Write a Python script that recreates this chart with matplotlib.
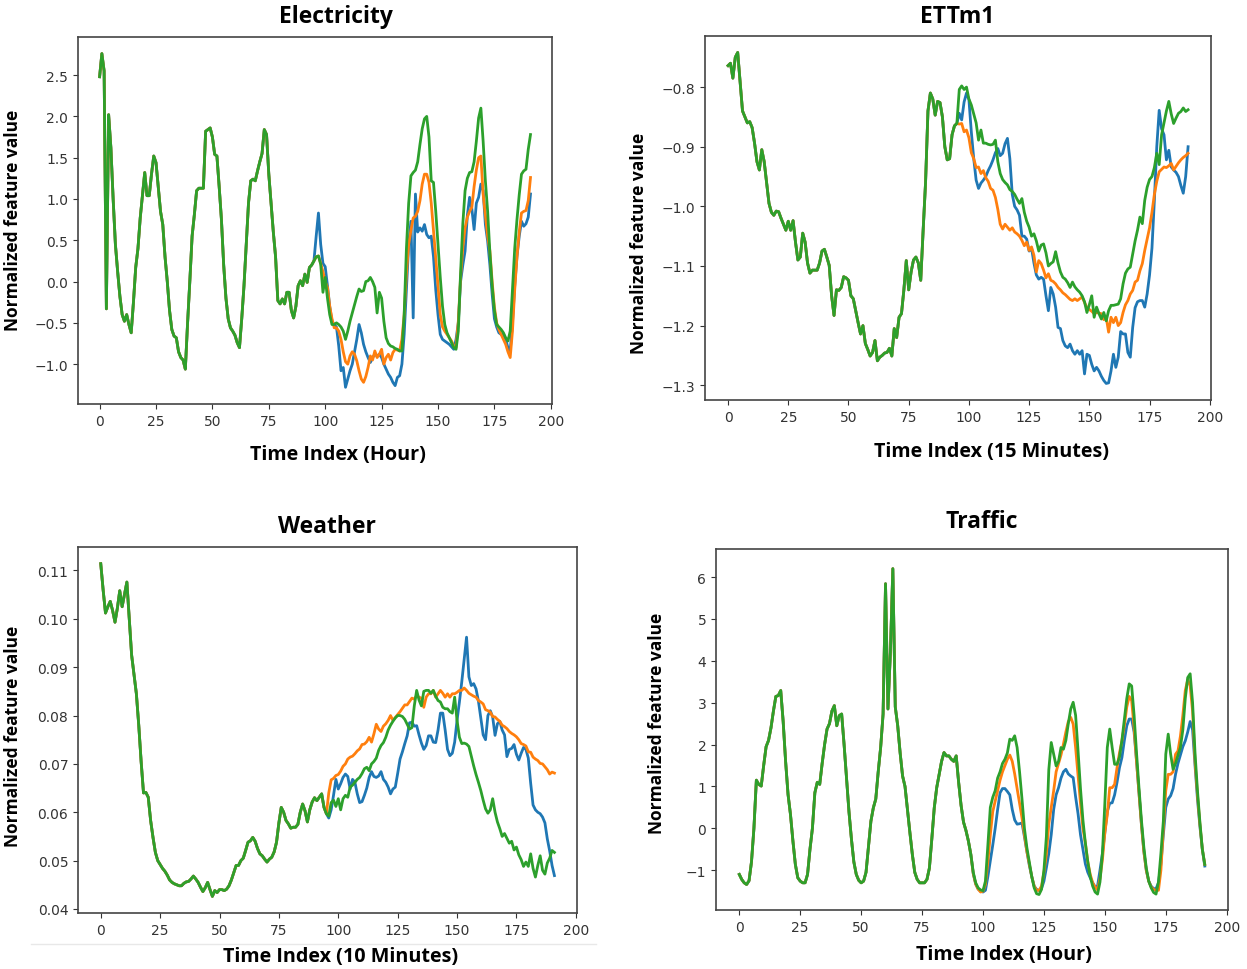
import numpy as np
import matplotlib
matplotlib.use("Agg")
import matplotlib.pyplot as plt
from matplotlib.ticker import MultipleLocator
from matplotlib.lines import Line2D


LOOKBACK = 96
HORIZON = 96

BLUE = "#1f77b4"
ORANGE = "#ff7f0e"
GREEN = "#2ca02c"

LABEL_FONT = "Open Sans"
Y_LABEL = "Normalized feature value"

# ---- Electricity ----
elec_hist = [
    2.48, 2.76, 2.55, -0.33, 2.02, 1.62, 1.00, 0.45, 0.12, -0.18,
    -0.40, -0.48, -0.40, -0.52, -0.62, -0.25, 0.17, 0.40, 0.77, 1.05,
    1.32, 1.04, 1.04, 1.30, 1.52, 1.44, 1.15, 0.85, 0.69, 0.30,
    0.00, -0.35, -0.58, -0.66, -0.68, -0.85, -0.92, -0.95, -1.06, -0.50,
    0.01, 0.55, 0.81, 1.10, 1.13, 1.13, 1.13, 1.82, 1.84, 1.86,
    1.75, 1.54, 1.52, 1.15, 0.75, 0.20, -0.20, -0.45, -0.56, -0.60,
    -0.65, -0.74, -0.80, -0.45, -0.05, 0.45, 0.95, 1.22, 1.24, 1.22,
    1.34, 1.45, 1.55, 1.84, 1.78, 1.30, 0.95, 0.60, 0.30, -0.23,
    -0.27, -0.21, -0.27, -0.13, -0.13, -0.35, -0.44, -0.30, -0.05, 0.01,
    -0.05, 0.09, -0.01, 0.17, 0.20, 0.25,
]
elec_blue = [
    0.55, 0.83, 0.45, 0.22, 0.18, -0.05, -0.30, -0.48, -0.52, -0.55,
    -0.78, -1.08, -1.04, -1.28, -1.18, -1.08, -1.00, -0.85, -0.70, -0.52,
    -0.62, -0.76, -0.85, -0.92, -0.98, -0.92, -0.88, -0.90, -0.88, -0.92,
    -1.00, -1.06, -1.12, -1.16, -1.22, -1.26, -1.16, -1.14, -1.00, -0.64,
    -0.10, 0.45, 0.73, -0.44, 1.06, 0.60, 0.65, 0.61, 0.69, 0.57,
    0.53, 0.55, 0.30, -0.10, -0.40, -0.64, -0.70, -0.72, -0.74, -0.76,
    -0.79, -0.82, -0.70, -0.50, 0.00, 0.20, 0.37, 0.80, 1.02, 0.88,
    0.63, 0.95, 1.02, 1.18, 1.10, 0.69, 0.49, 0.20, -0.15, -0.45,
    -0.55, -0.62, -0.64, -0.64, -0.70, -0.80, -0.84, -0.50, -0.05, 0.30,
    0.55, 0.73, 0.67, 0.70, 0.78, 1.06,
]
elec_orange = [
    0.30, 0.31, 0.22, 0.12, 0.00, -0.07, -0.30, -0.45, -0.56, -0.56,
    -0.60, -0.70, -0.85, -0.97, -1.00, -0.90, -0.85, -0.88, -0.96, -1.08,
    -1.18, -1.22, -1.15, -1.04, -0.90, -0.95, -0.84, -0.92, -0.88, -0.82,
    -1.00, -0.92, -0.88, -0.95, -0.86, -0.82, -0.83, -0.84, -0.70, -0.40,
    0.10, 0.45, 0.62, 0.77, 0.79, 0.85, 0.98, 1.18, 1.30, 1.30,
    1.20, 0.95, 0.62, 0.30, -0.05, -0.40, -0.55, -0.60, -0.64, -0.68,
    -0.72, -0.78, -0.80, -0.48, 0.05, 0.41, 0.65, 0.78, 0.85, 0.90,
    1.15, 1.35, 1.50, 1.52, 1.06, 0.80, 0.55, 0.37, 0.00, -0.31,
    -0.50, -0.58, -0.64, -0.70, -0.76, -0.85, -0.92, -0.60, -0.10, 0.30,
    0.60, 0.83, 0.85, 0.86, 0.98, 1.26,
]
elec_green = [
    0.30, 0.31, 0.21, -0.13, 0.05, -0.20, -0.40, -0.52, -0.52, -0.50,
    -0.52, -0.55, -0.60, -0.70, -0.60, -0.48, -0.38, -0.28, -0.18, -0.09,
    -0.12, -0.11, 0.00, 0.01, 0.05, 0.00, -0.07, -0.38, -0.13, -0.20,
    -0.48, -0.68, -0.75, -0.78, -0.79, -0.81, -0.82, -0.84, -0.84, -0.40,
    0.40, 0.95, 1.28, 1.32, 1.35, 1.45, 1.66, 1.85, 1.97, 2.00,
    1.75, 1.22, 1.20, 0.85, 0.45, 0.05, -0.30, -0.52, -0.62, -0.68,
    -0.74, -0.80, -0.82, -0.60, 0.10, 0.70, 1.10, 1.25, 1.32, 1.33,
    1.45, 1.70, 1.98, 2.10, 1.70, 1.22, 0.85, 0.35, -0.05, -0.35,
    -0.52, -0.55, -0.58, -0.62, -0.68, -0.72, -0.60, -0.10, 0.40, 0.75,
    1.05, 1.30, 1.34, 1.36, 1.60, 1.78,
]

# ---- ETTm1 ----
ettm1_hist = [
    -0.764, -0.760, -0.785, -0.750, -0.742, -0.790, -0.840, -0.850, -0.860, -0.858,
    -0.868, -0.894, -0.925, -0.939, -0.905, -0.925, -0.960, -0.995, -1.010, -1.015,
    -1.008, -1.009, -1.020, -1.030, -1.040, -1.025, -1.040, -1.024, -1.060, -1.090,
    -1.085, -1.045, -1.060, -1.095, -1.112, -1.107, -1.107, -1.107, -1.095, -1.075,
    -1.072, -1.085, -1.099, -1.150, -1.183, -1.140, -1.141, -1.136, -1.118, -1.120,
    -1.124, -1.150, -1.155, -1.175, -1.195, -1.214, -1.200, -1.230, -1.240, -1.251,
    -1.245, -1.225, -1.259, -1.253, -1.250, -1.246, -1.245, -1.238, -1.251, -1.205,
    -1.220, -1.186, -1.180, -1.140, -1.091, -1.140, -1.110, -1.090, -1.085, -1.095,
    -1.124, -1.040, -0.960, -0.840, -0.810, -0.820, -0.847, -0.824, -0.826, -0.850,
    -0.900, -0.922, -0.920, -0.880, -0.865, -0.861,
]
ettm1_blue = [
    -0.844, -0.855, -0.825, -0.810, -0.821, -0.875, -0.920, -0.956, -0.970, -0.961,
    -0.956, -0.950, -0.940, -0.932, -0.922, -0.910, -0.903, -0.915, -0.911, -0.895,
    -0.886, -0.920, -0.980, -1.000, -1.006, -1.015, -1.050, -1.050, -1.055, -1.075,
    -1.070, -1.095, -1.115, -1.122, -1.119, -1.122, -1.150, -1.175, -1.136, -1.147,
    -1.169, -1.203, -1.205, -1.225, -1.234, -1.237, -1.231, -1.242, -1.248, -1.242,
    -1.248, -1.242, -1.281, -1.248, -1.250, -1.265, -1.276, -1.270, -1.276, -1.285,
    -1.292, -1.297, -1.296, -1.276, -1.248, -1.270, -1.253, -1.210, -1.214, -1.214,
    -1.245, -1.253, -1.203, -1.170, -1.160, -1.158, -1.158, -1.169, -1.147, -1.115,
    -1.070, -0.990, -0.900, -0.839, -0.870, -0.880, -0.922, -0.906, -0.934, -0.939,
    -0.943, -0.950, -0.965, -0.978, -0.950, -0.900,
]
ettm1_orange = [
    -0.862, -0.861, -0.875, -0.872, -0.885, -0.910, -0.920, -0.935, -0.934, -0.945,
    -0.940, -0.952, -0.958, -0.970, -0.973, -0.985, -1.005, -1.030, -1.038, -1.030,
    -1.035, -1.040, -1.036, -1.043, -1.046, -1.050, -1.057, -1.066, -1.060, -1.074,
    -1.068, -1.082, -1.110, -1.091, -1.096, -1.107, -1.120, -1.113, -1.124, -1.126,
    -1.130, -1.136, -1.140, -1.145, -1.148, -1.152, -1.156, -1.158, -1.155, -1.158,
    -1.155, -1.152, -1.161, -1.170, -1.173, -1.176, -1.180, -1.178, -1.179, -1.180,
    -1.190, -1.186, -1.211, -1.186, -1.195, -1.186, -1.200, -1.195, -1.178, -1.165,
    -1.158, -1.147, -1.141, -1.127, -1.124, -1.108, -1.096, -1.074, -1.055, -1.036,
    -1.010, -0.980, -0.958, -0.942, -0.938, -0.934, -0.935, -0.932, -0.928, -0.939,
    -0.933, -0.927, -0.922, -0.918, -0.915, -0.911,
]
ettm1_green = [
    -0.804, -0.798, -0.804, -0.800, -0.820, -0.830, -0.845, -0.860, -0.889, -0.872,
    -0.894, -0.894, -0.896, -0.897, -0.896, -0.889, -0.925, -0.945, -0.955, -0.960,
    -0.964, -0.972, -0.975, -0.980, -0.988, -0.995, -0.987, -1.010, -1.025, -1.035,
    -1.050, -1.046, -1.058, -1.075, -1.065, -1.063, -1.078, -1.100, -1.096, -1.093,
    -1.076, -1.095, -1.110, -1.119, -1.122, -1.128, -1.136, -1.127, -1.135, -1.140,
    -1.144, -1.150, -1.160, -1.178, -1.165, -1.150, -1.186, -1.169, -1.180, -1.189,
    -1.178, -1.192, -1.175, -1.166, -1.166, -1.165, -1.164, -1.155, -1.130, -1.112,
    -1.105, -1.102, -1.080, -1.058, -1.040, -1.018, -1.029, -0.990, -0.968, -0.955,
    -0.950, -0.935, -0.911, -0.930, -0.880, -0.860, -0.840, -0.824, -0.845, -0.861,
    -0.852, -0.844, -0.841, -0.835, -0.841, -0.838,
]

# ---- Weather ----
weather_hist = [
    0.1114, 0.1060, 0.1012, 0.1025, 0.1036, 0.1017, 0.0993, 0.1022, 0.1058, 0.1025,
    0.1050, 0.1076, 0.1000, 0.0925, 0.0885, 0.0845, 0.0780, 0.0705, 0.0640, 0.0641,
    0.0631, 0.0583, 0.0548, 0.0517, 0.0500, 0.0492, 0.0484, 0.0478, 0.0470, 0.0460,
    0.0455, 0.0452, 0.0450, 0.0448, 0.0448, 0.0453, 0.0456, 0.0457, 0.0462, 0.0468,
    0.0462, 0.0455, 0.0445, 0.0436, 0.0444, 0.0455, 0.0440, 0.0426, 0.0438, 0.0434,
    0.0440, 0.0440, 0.0438, 0.0441, 0.0448, 0.0460, 0.0475, 0.0490, 0.0490, 0.0500,
    0.0505, 0.0521, 0.0538, 0.0541, 0.0548, 0.0540, 0.0525, 0.0514, 0.0510, 0.0503,
    0.0497, 0.0503, 0.0507, 0.0518, 0.0538, 0.0578, 0.0610, 0.0600, 0.0583, 0.0576,
    0.0567, 0.0569, 0.0569, 0.0575, 0.0600, 0.0617, 0.0603, 0.0580, 0.0605, 0.0621,
    0.0630, 0.0624, 0.0631, 0.0638, 0.0610, 0.0597,
]
weather_blue = [
    0.0588, 0.0605, 0.0635, 0.0668, 0.0648, 0.0659, 0.0672, 0.0679, 0.0674, 0.0648,
    0.0668, 0.0662, 0.0638, 0.0620, 0.0622, 0.0635, 0.0650, 0.0672, 0.0684, 0.0674,
    0.0672, 0.0675, 0.0684, 0.0668, 0.0662, 0.0652, 0.0638, 0.0648, 0.0652, 0.0680,
    0.0710, 0.0725, 0.0742, 0.0758, 0.0785, 0.0786, 0.0778, 0.0779, 0.0760, 0.0743,
    0.0730, 0.0738, 0.0758, 0.0758, 0.0745, 0.0744, 0.0770, 0.0805, 0.0805, 0.0770,
    0.0730, 0.0717, 0.0722, 0.0745, 0.0790, 0.0828, 0.0870, 0.0915, 0.0962, 0.0880,
    0.0862, 0.0866, 0.0855, 0.0830, 0.0795, 0.0760, 0.0750, 0.0800, 0.0810, 0.0797,
    0.0759, 0.0783, 0.0788, 0.0770, 0.0760, 0.0715, 0.0730, 0.0732, 0.0740, 0.0720,
    0.0708, 0.0722, 0.0734, 0.0730, 0.0712, 0.0660, 0.0615, 0.0605, 0.0600, 0.0597,
    0.0590, 0.0578, 0.0545, 0.0520, 0.0490, 0.0469,
]
weather_orange = [
    0.0640, 0.0667, 0.0670, 0.0676, 0.0678, 0.0685, 0.0695, 0.0700, 0.0710, 0.0714,
    0.0716, 0.0721, 0.0727, 0.0731, 0.0740, 0.0741, 0.0746, 0.0755, 0.0745, 0.0762,
    0.0782, 0.0772, 0.0767, 0.0778, 0.0783, 0.0790, 0.0800, 0.0790, 0.0796, 0.0802,
    0.0808, 0.0815, 0.0822, 0.0822, 0.0829, 0.0836, 0.0834, 0.0841, 0.0838, 0.0836,
    0.0817, 0.0838, 0.0845, 0.0845, 0.0852, 0.0838, 0.0845, 0.0852, 0.0846, 0.0838,
    0.0845, 0.0838, 0.0845, 0.0845, 0.0848, 0.0852, 0.0852, 0.0857, 0.0852, 0.0846,
    0.0843, 0.0840, 0.0838, 0.0831, 0.0828, 0.0824, 0.0812, 0.0810, 0.0807, 0.0798,
    0.0797, 0.0792, 0.0788, 0.0780, 0.0777, 0.0773, 0.0767, 0.0763, 0.0760, 0.0756,
    0.0750, 0.0742, 0.0740, 0.0737, 0.0725, 0.0724, 0.0714, 0.0710, 0.0707, 0.0701,
    0.0700, 0.0694, 0.0688, 0.0679, 0.0683, 0.0681,
]
weather_green = [
    0.0592, 0.0620, 0.0625, 0.0612, 0.0628, 0.0605, 0.0628, 0.0635, 0.0631, 0.0652,
    0.0656, 0.0662, 0.0668, 0.0672, 0.0680, 0.0690, 0.0693, 0.0686, 0.0700, 0.0705,
    0.0712, 0.0728, 0.0738, 0.0744, 0.0755, 0.0770, 0.0780, 0.0788, 0.0795, 0.0800,
    0.0800, 0.0798, 0.0792, 0.0782, 0.0772, 0.0775, 0.0820, 0.0852, 0.0832, 0.0820,
    0.0850, 0.0852, 0.0852, 0.0846, 0.0852, 0.0840, 0.0831, 0.0828, 0.0817, 0.0814,
    0.0814, 0.0808, 0.0805, 0.0838, 0.0790, 0.0755, 0.0742, 0.0743, 0.0741, 0.0736,
    0.0716, 0.0696, 0.0678, 0.0662, 0.0645, 0.0625, 0.0607, 0.0598, 0.0605, 0.0628,
    0.0600, 0.0580, 0.0566, 0.0550, 0.0556, 0.0546, 0.0536, 0.0540, 0.0522, 0.0528,
    0.0512, 0.0502, 0.0488, 0.0497, 0.0488, 0.0514, 0.0484, 0.0466, 0.0490, 0.0510,
    0.0480, 0.0472, 0.0495, 0.0505, 0.0521, 0.0517,
]

# ---- Traffic ----
traffic_hist = [
    -1.10, -1.22, -1.30, -1.34, -1.25, -0.80, 0.00, 1.15, 1.05, 1.01,
    1.50, 1.95, 2.10, 2.40, 2.80, 3.15, 3.17, 3.29, 2.55, 1.60,
    0.81, 0.33, -0.30, -0.86, -1.18, -1.26, -1.30, -1.30, -1.10, -0.50,
    0.00, 0.85, 1.10, 1.05, 1.55, 2.00, 2.37, 2.50, 2.80, 2.93,
    2.45, 2.69, 2.73, 2.00, 1.20, 0.40, -0.25, -0.80, -1.10, -1.24,
    -1.30, -1.26, -1.05, -0.45, 0.17, 0.49, 0.70, 1.35, 1.93, 2.73,
    5.84, 2.85, 4.20, 6.20, 2.90, 2.45, 1.80, 1.25, 1.00, 0.45,
    -0.10, -0.62, -1.05, -1.22, -1.30, -1.30, -1.30, -1.22, -0.95, -0.25,
    0.49, 0.97, 1.29, 1.60, 1.81, 1.73, 1.73, 1.65, 1.60, 1.73,
    1.10, 0.55, 0.15, -0.05, -0.30, -0.62,
]
traffic_blue = [
    -1.08, -1.33, -1.45, -1.50, -1.52, -1.48, -1.15, -0.78, -0.40, 0.00,
    0.45, 0.85, 0.95, 0.95, 0.88, 0.80, 0.45, 0.20, 0.10, 0.11,
    0.13, -0.20, -0.55, -0.88, -1.15, -1.38, -1.46, -1.48, -1.44, -1.26,
    -0.94, -0.60, -0.15, 0.45, 0.80, 0.97, 1.20, 1.35, 1.41, 1.30,
    1.25, 1.21, 0.75, 0.35, -0.15, -0.50, -0.85, -1.05, -1.18, -1.30,
    -1.40, -1.38, -1.00, -0.60, -0.10, 0.40, 0.60, 0.61, 0.80, 1.10,
    1.45, 1.69, 2.10, 2.45, 2.61, 2.61, 2.30, 1.60, 0.85, 0.10,
    -0.55, -1.00, -1.26, -1.38, -1.44, -1.44, -1.30, -0.85, -0.15, 0.50,
    0.70, 0.78, 0.95, 1.29, 1.55, 1.75, 1.95, 2.09, 2.30, 2.55,
    2.35, 1.50, 0.70, 0.05, -0.50, -0.90,
]
traffic_orange = [
    -1.08, -1.33, -1.45, -1.52, -1.50, -1.34, -0.80, -0.15, 0.40, 0.65,
    0.90, 1.15, 1.35, 1.50, 1.65, 1.75, 1.60, 1.30, 0.95, 0.60,
    0.25, -0.15, -0.55, -0.85, -1.15, -1.38, -1.48, -1.48, -1.38, -1.05,
    -0.62, 0.10, 0.50, 0.90, 1.35, 1.55, 1.75, 2.01, 2.30, 2.55,
    2.65, 2.49, 1.93, 1.25, 0.60, 0.00, -0.35, -0.80, -1.10, -1.30,
    -1.40, -1.47, -1.20, -0.75, -0.10, 0.33, 0.97, 0.97, 1.05, 1.45,
    1.80, 2.09, 2.45, 2.90, 3.15, 3.05, 2.40, 1.60, 0.85, 0.10,
    -0.55, -1.00, -1.26, -1.40, -1.46, -1.48, -1.48, -1.00, 0.00, 0.90,
    1.29, 1.29, 1.35, 1.77, 1.85, 2.20, 2.70, 3.29, 3.55, 3.40,
    2.80, 1.60, 0.80, 0.10, -0.50, -0.86,
]
traffic_green = [
    -1.05, -1.30, -1.42, -1.47, -1.49, -1.26, -0.40, 0.50, 0.74, 0.90,
    1.20, 1.35, 1.55, 1.65, 1.80, 2.13, 2.10, 2.21, 1.93, 1.35,
    0.70, 0.00, -0.46, -0.80, -1.15, -1.42, -1.56, -1.58, -1.46, -1.00,
    -0.20, 1.40, 2.05, 1.77, 1.49, 1.60, 1.93, 1.89, 2.10, 2.50,
    2.85, 3.01, 2.70, 1.85, 0.95, 0.20, -0.35, -0.80, -1.15, -1.38,
    -1.52, -1.57, -1.28, -0.60, 0.60, 1.93, 2.37, 1.93, 1.53, 1.53,
    1.70, 2.10, 2.60, 3.10, 3.45, 3.40, 2.70, 1.80, 0.97, 0.20,
    -0.45, -0.95, -1.26, -1.42, -1.53, -1.57, -1.28, -0.60, 0.17, 1.77,
    2.25, 1.77, 1.41, 1.55, 1.75, 1.93, 2.35, 3.10, 3.60, 3.69,
    3.00, 1.80, 0.90, 0.15, -0.50, -0.86,
]

# axes rectangles in figure fractions, plus where the title / labels sit (axes coords)
panels = [
    dict(name="Electricity", xlabel="Time Index (Hour)",
         hist=elec_hist, blue=elec_blue, orange=elec_orange, green=elec_green,
         rect=[0.0626, 0.5825, 0.3801, 0.3784], ylim=None,
         title_xy=(0.544, 1.057), xlabel_xy=(0.549, -0.136), ylabel_xy=(-0.137, 0.504)),
    dict(name="ETTm1", xlabel="Time Index (15 Minutes)",
         hist=ettm1_hist, blue=ettm1_blue, orange=ettm1_orange, green=ettm1_green,
         rect=[0.5654, 0.5866, 0.4058, 0.3753], ylim=None,
         title_xy=(0.498, 1.055), xlabel_xy=(0.567, -0.140), ylabel_xy=(-0.130, 0.434)),
    dict(name="Weather", xlabel="Time Index (10 Minutes)",
         hist=weather_hist, blue=weather_blue, orange=weather_orange, green=weather_green,
         rect=[0.0626, 0.0577, 0.4002, 0.3773], ylim=None,
         title_xy=(0.499, 1.057), xlabel_xy=(0.527, -0.117), ylabel_xy=(-0.130, 0.486)),
    dict(name="Traffic", xlabel="Time Index (Hour)",
         hist=traffic_hist, blue=traffic_blue, orange=traffic_orange, green=traffic_green,
         rect=[0.5742, 0.0608, 0.4106, 0.3722], ylim=(-1.95, 6.67),
         title_xy=(0.518, 1.078), xlabel_xy=(0.5625, -0.122), ylabel_xy=(-0.115, 0.521)),
]


def draw_panel(fig, p):
    ax = fig.add_axes(p["rect"])
    t = np.arange(LOOKBACK + HORIZON)

    # ground truth first, then the two forecasts; green ends up on top
    for key, color in (("blue", BLUE), ("orange", ORANGE), ("green", GREEN)):
        series = np.concatenate([p["hist"], p[key]])
        ax.plot(t, series, color=color, lw=2.0)

    if p["ylim"] is not None:
        ax.set_ylim(*p["ylim"])
    ax.xaxis.set_major_locator(MultipleLocator(25))
    ax.tick_params(labelsize=10, colors="#333333", length=3.5)
    for s in ax.spines.values():
        s.set_color("#444444")
        s.set_linewidth(1.2)

    ax.set_title(p["name"], fontfamily=LABEL_FONT, fontweight="bold", fontsize=16.5,
                 x=p["title_xy"][0], y=p["title_xy"][1], va="center", pad=0)
    ax.set_xlabel(p["xlabel"], fontfamily=LABEL_FONT, fontweight="bold", fontsize=14.2)
    ax.xaxis.set_label_coords(*p["xlabel_xy"])
    ax.xaxis.label.set_va("center")
    ax.set_ylabel(Y_LABEL, fontfamily=LABEL_FONT, fontweight="bold", fontsize=12.5)
    ax.yaxis.set_label_coords(*p["ylabel_xy"])
    ax.yaxis.label.set_va("center")
    return ax


fig = plt.figure(figsize=(12.47, 9.70), dpi=100)
for p in panels:
    draw_panel(fig, p)

# faint rule under the weather panel
fig.add_artist(Line2D([0.025, 0.478], [0.026, 0.026], color="#e8e8e8", lw=1.0))

fig.savefig("out.png", dpi=100)
